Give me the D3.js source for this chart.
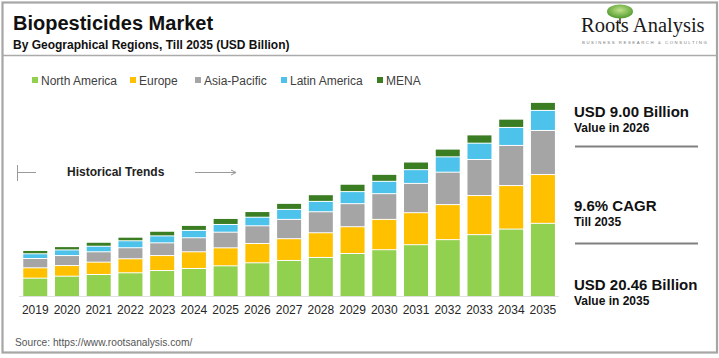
<!DOCTYPE html>
<html><head><meta charset="utf-8">
<script src="https://cdn.jsdelivr.net/npm/d3@7"></script>
<style>
html,body{margin:0;padding:0;background:#fff;}
svg{display:block;font-family:"Liberation Sans",Arial,sans-serif;}
</style></head>
<body>
<svg id="chart" width="719" height="358"></svg>
<script>
const years = ["2019","2020","2021","2022","2023","2024","2025","2026","2027","2028","2029","2030","2031","2032","2033","2034","2035"];
const seriesNames = ["North America","Europe","Asia-Pacific","Latin America","MENA"];
const seriesColors = ["#92D050","#FFC000","#A5A5A5","#4DC3EC","#3B7D23"];
const northAmerica = [1.84,2.05,2.23,2.41,2.65,2.87,3.15,3.47,3.72,4.04,4.46,4.86,5.39,5.93,6.46,7.05,7.66];
const europe       = [1.10,1.13,1.31,1.49,1.59,1.77,1.91,2.05,2.31,2.62,2.84,3.22,3.40,3.72,4.15,4.62,5.18];
const asiaPacific  = [0.99,1.06,1.10,1.17,1.35,1.49,1.66,1.88,2.05,2.23,2.45,2.73,3.11,3.44,3.83,4.26,4.68];
const latinAmerica = [0.50,0.60,0.59,0.74,0.74,0.78,0.82,0.91,1.06,1.10,1.28,1.31,1.46,1.63,1.73,1.91,2.13];
const mena         = [0.35,0.35,0.42,0.38,0.49,0.53,0.64,0.60,0.64,0.71,0.78,0.74,0.81,0.82,0.88,0.88,0.85];
const statValues = ["USD 9.00 Billion","9.6% CAGR","USD 20.46 Billion"];
const statLabels = ["Value in 2026","Till 2035","Value in 2035"];

const svg = d3.select("#chart");

// frame
svg.append("rect").attr("x",2.5).attr("y",2.5).attr("width",714.5).attr("height",350)
  .attr("fill","none").attr("stroke","#a6a6a6").attr("stroke-width",2.2);
svg.append("line").attr("x1",3).attr("x2",717).attr("y1",55.5).attr("y2",55.5)
  .attr("stroke","#ababab").attr("stroke-width",1.5);

// title
svg.append("text").attr("x",13).attr("y",30).attr("font-size",20).attr("font-weight","bold")
  .attr("fill","#111").text("Biopesticides Market");
svg.append("text").attr("x",13).attr("y",48.5).attr("font-size",12).attr("font-weight","bold")
  .attr("fill","#111").text("By Geographical Regions, Till 2035 (USD Billion)");

// logo
const logo = svg.append("g");
const grad = svg.append("defs").append("radialGradient").attr("id","tree").attr("cx","50%").attr("cy","40%").attr("r","60%");
grad.append("stop").attr("offset","0%").attr("stop-color","#c2e38a");
grad.append("stop").attr("offset","100%").attr("stop-color","#4f9a2c");
logo.append("rect").attr("x",619).attr("y",15).attr("width",2).attr("height",9).attr("fill","#7a6a55");
logo.append("ellipse").attr("cx",620).attr("cy",11.5).attr("rx",13).attr("ry",7).attr("fill","url(#tree)");
logo.append("text").attr("x",581).attr("y",32).attr("font-family","'Liberation Serif','Times New Roman',serif")
  .attr("font-size",20.5).attr("fill","#1a1a1a").text("Roots Analysis");
logo.append("text").attr("x",582).attr("y",44).attr("font-size",4.3).attr("letter-spacing",1.55)
  .attr("fill","#7a7a7a").text("BUSINESS RESEARCH & CONSULTING");

// legend
const legendX = [32,130,195,281,377];
const legend = svg.append("g");
seriesNames.forEach((n,i)=>{
  legend.append("rect").attr("x",legendX[i]).attr("y",77).attr("width",6).attr("height",6).attr("fill",seriesColors[i]);
  legend.append("text").attr("x",legendX[i]+9).attr("y",84.5).attr("font-size",12).attr("fill","#404040").text(n);
});

// scales
const x = d3.scaleBand().domain(years).range([19.4,558.8]).paddingInner(0.244).paddingOuter(0.122);
const y = d3.scaleLinear().domain([0,22]).range([296,296-22*9.42]);

const rows = years.map((yr,i)=>({year:yr,"North America":northAmerica[i],"Europe":europe[i],"Asia-Pacific":asiaPacific[i],"Latin America":latinAmerica[i],"MENA":mena[i]}));
const stack = d3.stack().keys(seriesNames)(rows);

svg.append("line").attr("x1",19).attr("x2",559).attr("y1",296.5).attr("y2",296.5).attr("stroke","#e0e0e0").attr("stroke-width",1);

svg.append("g").selectAll("g").data(stack).join("g")
  .attr("fill",(d,i)=>seriesColors[i])
  .each(function(layer,li){
    d3.select(this).selectAll("rect").data(layer).join("rect")
      .attr("x",d=>x(d.data.year))
      .attr("width",x.bandwidth())
      .attr("y",d=>y(d[1]))
      .attr("height",d=>Math.max(0,y(d[0])-y(d[1])-(li>0?1:0)));
  });

// axis
const ax = svg.append("g").attr("transform","translate(0,296)")
  .call(d3.axisBottom(x).tickSize(0).tickPadding(9));
ax.select(".domain").remove();
ax.selectAll("text").attr("font-size",12).attr("fill","#262626").attr("font-family","'Liberation Sans',Arial,sans-serif");

// historical trends
const ht = svg.append("g").attr("stroke","#9a9a9a").attr("stroke-width",1);
ht.append("line").attr("x1",17.5).attr("x2",17.5).attr("y1",165).attr("y2",181);
ht.append("line").attr("x1",17.5).attr("x2",36).attr("y1",172.5).attr("y2",172.5);
ht.append("line").attr("x1",195).attr("x2",235).attr("y1",172.5).attr("y2",172.5);
ht.append("path").attr("d","M231,170 L236,172.5 L231,175").attr("fill","none");
svg.append("text").attr("x",67).attr("y",176).attr("font-size",12).attr("font-weight","bold")
  .attr("fill","#222").text("Historical Trends");

// right stats
const statY = [117,210.5,289.5];
statValues.forEach((v,i)=>{
  svg.append("text").attr("x",574).attr("y",statY[i]).attr("font-size",15).attr("font-weight","bold")
    .attr("fill","#111").text(v);
  svg.append("text").attr("x",574).attr("y",statY[i]+15).attr("font-size",12).attr("font-weight","bold")
    .attr("fill","#111").text(statLabels[i]);
});
[146.5,243.5].forEach(yy=>{
  svg.append("line").attr("x1",575).attr("x2",698).attr("y1",yy).attr("y2",yy)
    .attr("stroke","#808080").attr("stroke-width",2);
});

// source
svg.append("text").attr("x",15).attr("y",346).attr("font-size",10.2).attr("fill","#555")
  .text("Source: https://www.rootsanalysis.com/");
</script>
</body></html>
